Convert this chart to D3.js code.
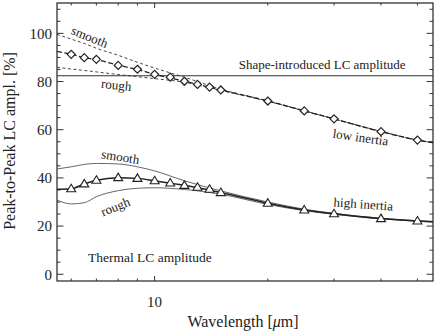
<!DOCTYPE html>
<meta charset="utf-8">
<style>
  body{
    margin: 0;
    background: white;
  }
  svg text{
    font-family: "Liberation Serif", "Times New Roman", Times, "DejaVu Serif", serif;
    fill: #222;
  }
</style>

<svg width="436" height="333" font-family="Liberation Serif, Times New Roman, DejaVu Serif, serif"></svg>

<script src="https://d3js.org/d3.v7.min.js"></script>
<script>
  // data: wavelengths of the markers [um]
  let markerWl = [6, 6.5, 7, 8, 9, 10, 11, 12, 13, 14, 15, 20, 25, 30, 40, 50]
  let lowMarkers = [91.3, 89.9, 89.2, 86.7, 85.1, 83.0, 81.8, 80.1, 78.8, 77.7, 76.5, 71.9, 67.8, 64.5, 59.2, 55.7]
  let highMarkers = [35.5, 37.5, 39.0, 40.1, 39.8, 38.8, 37.9, 36.9, 36.1, 35.3, 33.9, 29.5, 26.7, 25.1, 23.1, 22.1]

  // model curves
  let curveWl = [5.5, 6, 6.5, 7, 8, 9, 10, 12, 15, 20, 25, 30, 40, 50, 55]
  let lowNominal = [92.5, 91.3, 89.9, 89.1, 86.8, 85.0, 83.0, 80.1, 76.5, 71.9, 67.8, 64.5, 59.2, 55.7, 54.6]
  let lowSmooth = [99.6, 97.6, 95.8, 93.8, 90.9, 88.0, 85.6, 81.8, 76.8, 72.0, 67.9, 64.5, 59.3, 55.7, 54.6]
  let lowRough = [85.9, 85.2, 84.6, 84.0, 82.9, 82.0, 81.2, 79.7, 76.3, 71.8, 67.8, 64.5, 59.3, 55.7, 54.6]
  let highNominal = [35.3, 35.5, 37.5, 39.0, 40.1, 39.8, 38.8, 36.9, 33.9, 29.5, 26.7, 25.1, 23.1, 22.1, 21.8]
  let highSmooth = [43.7, 44.6, 45.6, 46.0, 45.8, 44.6, 42.9, 38.8, 34.6, 30.0, 27.0, 25.3, 23.2, 22.2, 21.9]
  let highRough = [30.8, 29.2, 29.7, 32.2, 34.7, 35.7, 35.9, 35.2, 33.2, 29.0, 26.4, 24.9, 23.0, 22.0, 21.7]

  let shapeAmplitude = 82.4

  // axis ticks
  let xTicks = [6, 7, 8, 9, 10, 20, 30, 40, 50]
  let xLabels = [10]
  let yLabels = [0, 20, 40, 60, 80, 100]
  let yMinor = d3.range(0, 115, 5)

  // visual values
  const box = {left: 57, right: 433, top: 3, bottom: 281}

  let svg = d3.select('svg')

  let x = d3.scaleLog()
    .domain([5.5, 55])
    .range([box.left, box.right])
  let y = d3.scaleLinear()
    .domain([-2.8, 112.6])
    .range([box.bottom, box.top])

  let axisColor = '#333'

  // ticks, pointing inward on all four sides
  let ticks = svg.append('g').attr('stroke', axisColor).attr('stroke-width', 1)
  xTicks.forEach(t=>{
    let len = xLabels.includes(t) ? 5 : 2.5
    ticks.append('line').attr('x1', x(t)).attr('x2', x(t)).attr('y1', box.bottom).attr('y2', box.bottom-len)
    ticks.append('line').attr('x1', x(t)).attr('x2', x(t)).attr('y1', box.top).attr('y2', box.top+len)
  })
  yMinor.filter(t=>y(t) <= box.bottom && y(t) >= box.top).forEach(t=>{
    let len = yLabels.includes(t) ? 6.5 : 3.5
    ticks.append('line').attr('x1', box.left).attr('x2', box.left+len).attr('y1', y(t)).attr('y2', y(t))
    ticks.append('line').attr('x1', box.right).attr('x2', box.right-len).attr('y1', y(t)).attr('y2', y(t))
  })

  // frame
  svg.append('rect')
    .attr('x', box.left)
    .attr('y', box.top)
    .attr('width', box.right-box.left)
    .attr('height', box.bottom-box.top)
    .attr('fill', 'none')
    .attr('stroke', axisColor)
    .attr('stroke-width', 1.3)

  // tick labels
  svg.selectAll('.ylab')
    .data(yLabels)
    .enter()
    .append('text')
    .attr('class', 'ylab')
    .attr('x', box.left-5)
    .attr('y', d=>y(d))
    .attr('dy', '0.35em')
    .attr('text-anchor', 'end')
    .attr('font-size', 15)
    .text(d=>d)

  svg.selectAll('.xlab')
    .data(xLabels)
    .enter()
    .append('text')
    .attr('class', 'xlab')
    .attr('x', d=>x(d))
    .attr('y', 307)
    .attr('text-anchor', 'middle')
    .attr('font-size', 15)
    .text(d=>d)

  // axis titles
  let xTitle = svg.append('text')
    .attr('x', (box.left+box.right)/2 - 2)
    .attr('y', 327)
    .attr('text-anchor', 'middle')
    .attr('font-size', 16)
  xTitle.append('tspan').text('Wavelength [')
  xTitle.append('tspan').attr('font-style', 'italic').text('\u03bc')
  xTitle.append('tspan').text('m]')

  svg.append('text')
    .attr('transform', 'translate(15,141) rotate(-90)')
    .attr('text-anchor', 'middle')
    .attr('font-size', 16)
    .text('Peak-to-Peak LC ampl. [%]')

  // lines
  let line = d3.line()
    .x(d=>x(d[0]))
    .y(d=>y(d[1]))
    .curve(d3.curveMonotoneX)

  function drawCurve(values, color, width, dash){
    svg.append('path')
      .datum(d3.zip(curveWl, values))
      .attr('d', line)
      .attr('fill', 'none')
      .attr('stroke', color)
      .attr('stroke-width', width)
      .attr('stroke-dasharray', dash)
  }

  // shape-introduced amplitude
  svg.append('line')
    .attr('x1', box.left)
    .attr('x2', box.right)
    .attr('y1', y(shapeAmplitude))
    .attr('y2', y(shapeAmplitude))
    .attr('stroke', '#333')
    .attr('stroke-width', 1)

  drawCurve(lowSmooth, '#333', 0.9, '3,2.5')
  drawCurve(lowRough, '#333', 0.9, '3,2.5')
  drawCurve(lowNominal, '#222', 1.3, '5,2.5')
  drawCurve(highSmooth, '#555', 0.9, null)
  drawCurve(highRough, '#555', 0.9, null)
  drawCurve(highNominal, '#222', 1.5, null)

  // markers
  svg.selectAll('.diamond')
    .data(d3.zip(markerWl, lowMarkers))
    .enter()
    .append('path')
    .attr('class', 'diamond')
    .attr('d', 'M0,-4L4,0L0,4L-4,0Z')
    .attr('transform', d=>'translate('+x(d[0])+','+y(d[1])+')')
    .attr('fill', 'white')
    .attr('stroke', '#222')
    .attr('stroke-width', 1.2)

  svg.selectAll('.triangle')
    .data(d3.zip(markerWl, highMarkers))
    .enter()
    .append('path')
    .attr('class', 'triangle')
    .attr('d', 'M0,-4.5L4.5,3L-4.5,3Z')
    .attr('transform', d=>'translate('+x(d[0])+','+y(d[1])+')')
    .attr('fill', 'white')
    .attr('stroke', '#222')
    .attr('stroke-width', 1.1)

  // annotations: [text, wavelength, value, angle]
  let notes = [
    ['smooth', 6.72, 98.6, 22],
    ['rough', 7.91, 78.6, 6],
    ['low inertia', 35.3, 56.9, 8],
    ['smooth', 8.11, 48.8, 9],
    ['rough', 7.86, 28.1, -22],
    ['high inertia', 35.9, 29.2, 4]
  ]
  svg.selectAll('.note')
    .data(notes)
    .enter()
    .append('text')
    .attr('class', 'note')
    .attr('transform', d=>'translate('+x(d[1])+','+y(d[2])+') rotate('+d[3]+')')
    .attr('dy', '0.35em')
    .attr('text-anchor', 'middle')
    .attr('font-size', 13)
    .text(d=>d[0])

  svg.append('text')
    .attr('x', x(27.9))
    .attr('y', y(85.0))
    .attr('text-anchor', 'middle')
    .attr('font-size', 13)
    .text('Shape-introduced LC amplitude')

  svg.append('text')
    .attr('x', x(9.71))
    .attr('y', y(5.1))
    .attr('text-anchor', 'middle')
    .attr('font-size', 13.5)
    .text('Thermal LC amplitude')
</script>
